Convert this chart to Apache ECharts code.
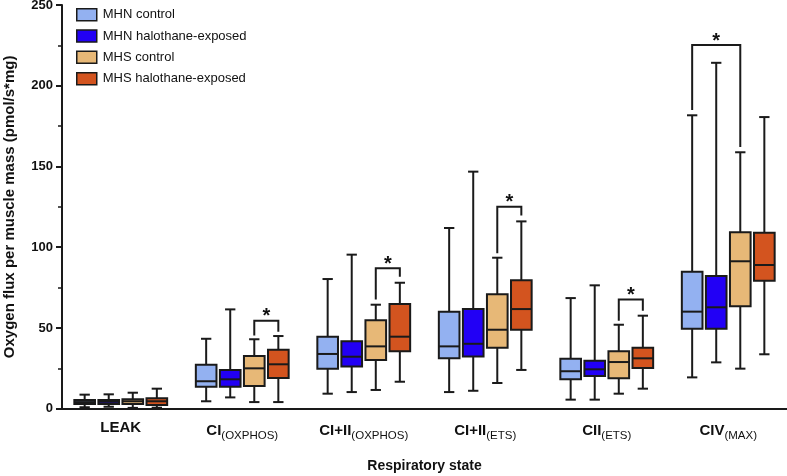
<!DOCTYPE html>
<html>
<head>
<meta charset="utf-8">
<script src="https://cdn.jsdelivr.net/npm/echarts@6/dist/echarts.min.js"></script>
<style>html,body{margin:0;padding:0;background:#fff}#c{width:787px;height:476px}</style>
</head>
<body>
<div id="c"></div>
<script>
// Categories (main text + subscript)
const catMain = ['LEAK', 'CI', 'CI+II', 'CI+II', 'CII', 'CIV'];
const catSub = ['', '(OXPHOS)', '(OXPHOS)', '(ETS)', '(ETS)', '(MAX)'];
const seriesNames = ['MHN control', 'MHN halothane-exposed', 'MHS control', 'MHS halothane-exposed'];
const yTicks = [0, 50, 100, 150, 200, 250];

// Box statistics per category: [min, q1, median, q3, max]
const mhnControl = [
  [0.9, 2.9, 4.1, 5.4, 8.7],
  [4.6, 13.6, 17.0, 27.2, 43.3],
  [9.3, 24.8, 33.9, 44.6, 80.3],
  [10.3, 31.2, 38.6, 60.1, 111.9],
  [5.6, 18.2, 23.2, 31.0, 68.5],
  [19.4, 49.5, 60.1, 84.8, 181.7]
];
const mhnHalothane = [
  [1.2, 2.9, 4.3, 5.4, 8.9],
  [7.0, 13.6, 18.2, 24.0, 61.5],
  [10.3, 26.2, 32.2, 41.7, 95.4],
  [11.1, 32.4, 40.2, 61.7, 146.8],
  [5.6, 20.2, 24.4, 29.7, 76.4],
  [28.7, 49.5, 62.8, 82.2, 214.2]
];
const mhsControl = [
  [0.5, 2.9, 4.6, 5.8, 9.9],
  [4.1, 14.1, 25.0, 32.6, 43.0],
  [11.6, 30.2, 38.6, 54.7, 64.4],
  [15.9, 37.8, 48.9, 70.8, 93.5],
  [9.3, 18.8, 28.9, 35.5, 52.0],
  [24.8, 63.4, 91.3, 109.2, 158.8]
];
const mhsHalothane = [
  [0.6, 2.3, 4.6, 6.4, 12.4],
  [4.1, 19.0, 27.5, 36.5, 45.0],
  [16.7, 35.5, 44.6, 64.8, 78.0],
  [24.0, 48.9, 61.7, 79.5, 116.0],
  [12.4, 25.2, 31.2, 37.8, 57.6],
  [33.7, 79.3, 89.0, 109.0, 180.6]
];
// Significance brackets: [category, left series, right series, top, left end, right end]
const sigBrackets = [
  [1, 2, 3, 54.5, 45.4, 47.7],
  [2, 2, 3, 86.9, 67.7, 81.7],
  [3, 2, 3, 125.1, 96.2, 119.7],
  [4, 2, 3, 67.7, 54.5, 60.7],
  [5, 0, 2, 225.2, 185.0, 162.0]
];

const colors = ['#93b1f1', '#2200f5', '#e7b877', '#d3541f'];
const allStats = [mhnControl, mhnHalothane, mhsControl, mhsHalothane];
const edge = '#1a1a1a';
const FONT = '"Liberation Sans", Arial, sans-serif';

function offsetOf(idx, band) { return (idx - 1.5) * band * 0.198; }

function boxRender(idx) {
  return function (params, api) {
    const ci = api.value(0);
    const band = api.size([1, 0])[0];
    const x = api.coord([ci, 0])[0] + offsetOf(idx, band);
    const bw = band * 0.17, cw = band * 0.085;
    const y = v => api.coord([ci, v])[1];
    const yMin = y(api.value(1)), yQ1 = y(api.value(2)), yMed = y(api.value(3)), yQ3 = y(api.value(4)), yMax = y(api.value(5));
    const ls = { stroke: edge, lineWidth: 2 };
    return {
      type: 'group', children: [
        { type: 'line', shape: { x1: x, y1: yMax, x2: x, y2: yQ3 }, style: ls },
        { type: 'line', shape: { x1: x, y1: yQ1, x2: x, y2: yMin }, style: ls },
        { type: 'line', shape: { x1: x - cw / 2, y1: yMax, x2: x + cw / 2, y2: yMax }, style: ls },
        { type: 'line', shape: { x1: x - cw / 2, y1: yMin, x2: x + cw / 2, y2: yMin }, style: ls },
        { type: 'rect', shape: { x: x - bw / 2, y: yQ3, width: bw, height: yQ1 - yQ3 }, style: { fill: colors[idx], stroke: edge, lineWidth: 2 } },
        { type: 'line', shape: { x1: x - bw / 2, y1: yMed, x2: x + bw / 2, y2: yMed }, style: ls }
      ]
    };
  };
}

function bracketRender(params, api) {
  const ci = api.value(0);
  const band = api.size([1, 0])[0];
  const cx = api.coord([ci, 0])[0];
  const xl = cx + offsetOf(api.value(1), band);
  const xr = cx + offsetOf(api.value(2), band);
  const yt = api.coord([ci, api.value(3)])[1];
  const yl = api.coord([ci, api.value(4)])[1];
  const yr = api.coord([ci, api.value(5)])[1];
  return {
    type: 'group', children: [
      { type: 'polyline', shape: { points: [[xl, yl], [xl, yt], [xr, yt], [xr, yr]] }, style: { stroke: edge, lineWidth: 2, fill: null } },
      { type: 'text', x: (xl + xr) / 2, y: yt - 4, style: { text: '*', font: 'bold 20px "Liberation Sans"', fill: '#111', align: 'center', verticalAlign: 'middle' } }
    ]
  };
}

const series = allStats.map((stats, idx) => ({
  name: seriesNames[idx],
  type: 'custom',
  renderItem: boxRender(idx),
  itemStyle: { color: colors[idx], borderColor: edge, borderWidth: 1.5 },
  encode: { x: 0, y: [1, 2, 3, 4, 5] },
  data: stats.map((s, i) => [i].concat(s)),
  silent: true
}));
series.push({
  name: 'sig', type: 'custom', renderItem: bracketRender,
  encode: { x: 0, y: [3, 4, 5] }, data: sigBrackets, silent: true
});

const chart = echarts.init(document.getElementById('c'), null, { renderer: 'canvas' });
chart.setOption({
  animation: false,
  backgroundColor: '#fff',
  textStyle: { fontFamily: FONT },
  grid: { left: 60, right: -2, top: 5, bottom: 67.3, containLabel: false, outerBoundsMode: 'none' },
  legend: {
    orient: 'vertical', left: 76, top: 8, padding: 0, itemWidth: 20, itemHeight: 12, itemGap: 7.8,
    icon: 'rect',
    textStyle: { fontSize: 13, color: '#111', fontFamily: FONT, padding: [0, 0, 0, 1] },
    data: seriesNames.map((n, i) => ({ name: n, itemStyle: { color: colors[i], borderColor: edge, borderWidth: 1.5 } }))
  },
  xAxis: {
    type: 'category',
    data: catMain.map((m, i) => m + catSub[i]),
    name: 'Respiratory state', nameLocation: 'middle', nameGap: 50,
    nameTextStyle: { fontSize: 14, fontWeight: 'bold', color: '#111' },
    axisLine: { lineStyle: { color: edge, width: 2 } },
    axisTick: { alignWithLabel: true, length: 6, lineStyle: { color: edge, width: 2 } },
    axisLabel: {
      margin: 12, interval: 0,
      formatter: (v, i) => catSub[i] ? '{m|' + catMain[i] + '}{s|' + catSub[i] + '}' : '{m|' + catMain[i] + '}',
      rich: {
        m: { fontSize: 15, fontWeight: 'bold', color: '#111', fontFamily: FONT },
        s: { fontSize: 11.5, color: '#111', padding: [9, 0, 0, 0], fontFamily: FONT }
      }
    },
    splitLine: { show: false }
  },
  yAxis: {
    type: 'value', min: yTicks[0], max: yTicks[yTicks.length - 1], interval: 50, offset: -2,
    name: 'Oxygen flux per muscle mass (pmol/s*mg)', nameLocation: 'middle', nameGap: 45,
    nameTextStyle: { fontSize: 15, fontWeight: 'bold', color: '#111' },
    axisLine: { show: true, lineStyle: { color: edge, width: 2 } },
    axisTick: { show: true, length: 6, lineStyle: { color: edge, width: 2 } },
    minorTick: { show: true, splitNumber: 2, length: 4, lineStyle: { color: edge, width: 1.5 } },
    axisLabel: { margin: 9, fontSize: 13, fontWeight: 'bold', color: '#111' },
    splitLine: { show: false }
  },
  series: series
});
</script>
</body>
</html>
